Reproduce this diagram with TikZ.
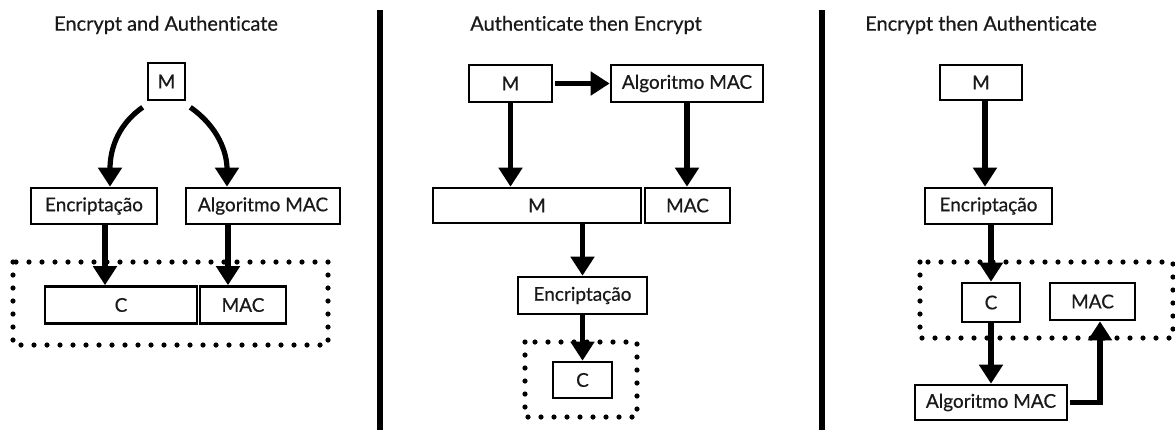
\documentclass[tikz,border=0pt]{standalone}
\usepackage{fontspec}
\setmainfont{Lato}[Ligatures=NoCommon,FakeBold=0.6]
\usetikzlibrary{arrows.meta,calc}
\tikzset{
  lbl/.style={draw=black, line width=1.3pt, inner sep=0pt, font=\fontsize{9.5}{11}\selectfont, text=black!90},
  ttl/.style={inner sep=0pt, font=\fontsize{10}{12}\selectfont, text=black!90},
  arr/.style={line width=2.6pt, -{Triangle[width=11.5pt,length=9.5pt]}},
  dotbox/.style={line width=2.6pt, line cap=round, dash pattern=on 0pt off 6.5pt},
  divider/.style={line width=2.6pt}
}
\begin{document}
\begin{tikzpicture}[x=0.5pt,y=-0.5pt]
\useasboundingbox (0,0) rectangle (1175,430);
% dividers
\coordinate (d1a) at (380,10); \coordinate (d1b) at (380,430);
\coordinate (d2a) at (822,10); \coordinate (d2b) at (822,430);
\draw[divider] (d1a) -- (d1b);
\draw[divider] (d2a) -- (d2b);
% ---------- Panel 1 ----------
\node[ttl] (t1) at (166,25) {Encrypt and Authenticate};
\draw[dotbox] (13,262) rectangle (328,345);
\node[lbl, minimum width=18.5pt, minimum height=18.5pt] (m1) at (166.5,81.5) {M};
\node[lbl, minimum width=63pt, minimum height=18pt] (e1) at (94,206) {Encriptação};
\node[lbl, minimum width=77pt, minimum height=18pt] (a1) at (263,206) {Algoritmo MAC};
\node[lbl, minimum width=76pt, minimum height=18.5pt] (c1) at (121,305) {C};
\node[lbl, minimum width=43pt, minimum height=18.5pt] (mac1) at (243,305) {MAC};
\draw[arr] ([xshift=-2pt,yshift=-3pt]m1.south west) to[out=215,in=90] ([xshift=8pt]e1.north);
\draw[arr] ([xshift=2pt,yshift=-3pt]m1.south east) to[out=-35,in=90] ([xshift=-18pt]a1.north);
\draw[arr] ([xshift=5.5pt]e1.south) -- ([xshift=5.5pt]e1.south |- c1.north);
\draw[arr] ([xshift=-17.5pt]a1.south) -- ([xshift=-17.5pt]a1.south |- mac1.north);
% ---------- Panel 2 ----------
\node[ttl] (t2) at (586,25) {Authenticate then Encrypt};
\draw[dotbox] (525,342) rectangle (637,417);
\node[lbl, minimum width=41.5pt, minimum height=18.5pt] (m2) at (510.5,83.5) {M};
\node[lbl, minimum width=76pt, minimum height=18.5pt] (a2) at (687,83.5) {Algoritmo MAC};
\node[lbl, minimum width=104pt, minimum height=17.5pt] (mb2) at (537,205.5) {M};
\node[lbl, minimum width=42.5pt, minimum height=17.5pt] (mac2) at (687.5,205.5) {MAC};
\node[lbl, minimum width=64.5pt, minimum height=18.5pt] (e2) at (582.5,295.5) {Encriptação};
\node[lbl, minimum width=29.5pt, minimum height=18pt] (c2) at (582.5,380) {C};
\draw[arr] ([xshift=1pt]m2.east) -- (a2.west);
\draw[arr] (m2.south) -- (m2.south |- mb2.north);
\draw[arr] (a2.south) -- (a2.south |- mac2.north);
\draw[arr] (e2.north |- mb2.south) -- (e2.north);
\draw[arr] (e2.south) -- (c2.north);
% ---------- Panel 3 ----------
\node[ttl] (t3) at (981,25) {Encrypt then Authenticate};
\draw[dotbox] (920,262) rectangle (1173,338);
\node[lbl, minimum width=41pt, minimum height=17.5pt] (m3) at (981,82.5) {M};
\node[lbl, minimum width=63.5pt, minimum height=18pt] (e3) at (988.5,206) {Encriptação};
\node[lbl, minimum width=29pt, minimum height=19.5pt] (c3) at (991,302.5) {C};
\node[lbl, minimum width=42.5pt, minimum height=18.5pt] (mac3) at (1092.5,301.5) {MAC};
\node[lbl, minimum width=76pt, minimum height=17.5pt] (a3) at (991,402.5) {Algoritmo MAC};
\draw[arr] ([xshift=2pt]m3.south) -- ([xshift=2pt]m3.south |- e3.north);
\draw[arr] (c3.north |- e3.south) -- (c3.north);
\draw[arr] (c3.south) -- (a3.north);
\draw[arr] ([xshift=1pt]a3.east) -| ([xshift=3.75pt]mac3.south);
\end{tikzpicture}
\end{document}
